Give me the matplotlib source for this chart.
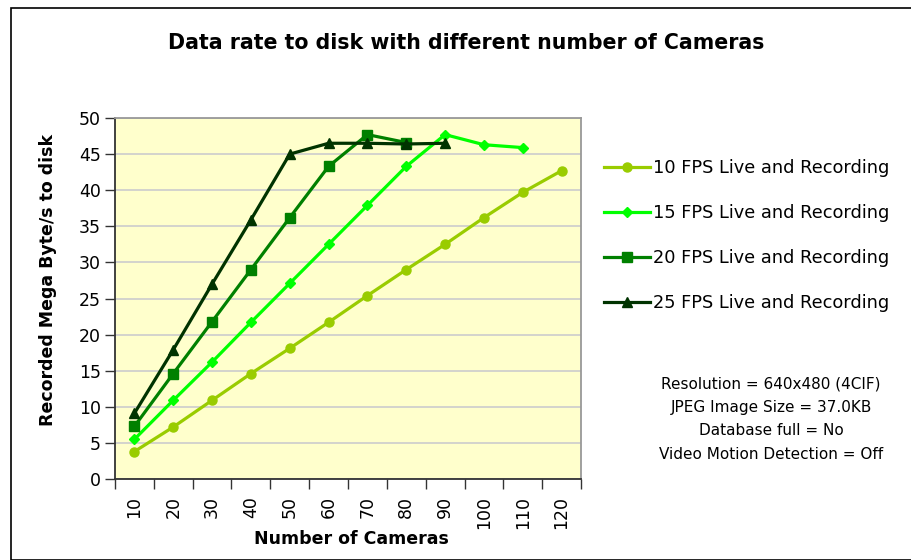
import numpy as np
import matplotlib
matplotlib.use('Agg')
from matplotlib import pyplot as plt
from matplotlib.patches import Rectangle

plt.rcParams['font.family'] = ['DejaVu Sans']

cameras = ['10', '20', '30', '40', '50', '60', '70', '80', '90', '100', '110', '120']
fps10 = [3.8, 7.2, 10.9, 14.6, 18.1, 21.7, 25.4, 29.0, 32.5, 36.2, 39.7, 42.7]
fps15 = [5.5, 10.9, 16.2, 21.7, 27.1, 32.5, 37.9, 43.3, 47.7, 46.3, 45.9]
fps20 = [7.3, 14.6, 21.8, 29.0, 36.2, 43.3, 47.7, 46.6]
fps25 = [9.1, 17.9, 27.0, 35.9, 45.0, 46.5, 46.5, 46.4, 46.5]

series = [
    ('10 FPS Live and Recording', fps10, '#99CC00', 'o', 6.5),
    ('15 FPS Live and Recording', fps15, '#00FF00', 'D', 5.5),
    ('20 FPS Live and Recording', fps20, '#008000', 's', 6.5),
    ('25 FPS Live and Recording', fps25, '#003300', '^', 7.5),
]

W, H = 911, 560
fig = plt.figure(figsize=(W/100, H/100), dpi=100)
fig.patches.append(Rectangle((11/W, 0), 1, 1-8/H, transform=fig.transFigure,
                             fill=False, edgecolor='black', linewidth=1.2))

ax = fig.add_axes([115/W, 1-479/H, (581-115)/W, (479-118)/H])
ax.set_facecolor('#FFFFCC')
for lab, vals, col, mk, ms in series:
    x = np.arange(len(vals))
    ax.plot(x, vals, color=col, marker=mk, markersize=ms, linewidth=2.3, label=lab)

ax.set_xlim(-0.5, len(cameras) - 0.5)
ax.set_ylim(0, 50)
ax.set_yticks(np.arange(0, 51, 5))
ax.grid(axis='y', color='#CCCCCC', linewidth=1.2)
ax.set_axisbelow(True)
ax.set_xticks(np.arange(len(cameras)))
ax.set_xticklabels(cameras, rotation=90, fontsize=12.5)
ax.set_xticks(np.arange(-0.5, len(cameras), 1), minor=True)
ax.tick_params(axis='x', which='major', length=0, pad=12)
ax.tick_params(axis='x', which='minor', length=7, width=1, color='#333333', direction='out')
ax.tick_params(axis='y', length=7, width=1, color='#333333', labelsize=12.5, pad=3)
for s in ['left', 'bottom']:
    ax.spines[s].set_color('#333333')
    ax.spines[s].set_linewidth(1.3)
for s in ['top', 'right']:
    ax.spines[s].set_color('#999999')
    ax.spines[s].set_linewidth(1.3)

fig.text(466/W, 1-43/H, 'Data rate to disk with different number of Cameras',
         ha='center', va='center', fontsize=14.8, fontweight='bold')
fig.text(48/W, 1-280/H, 'Recorded Mega Byte/s to disk', rotation=90,
         ha='center', va='center', fontsize=12.5, fontweight='bold')
fig.text(351/W, 1-539/H, 'Number of Cameras', ha='center', va='center',
         fontsize=12.5, fontweight='bold')

fig.legend(loc='upper left', bbox_to_anchor=(604/W, 1-159/H), frameon=False,
           fontsize=12.8, handlelength=2.6, handletextpad=0.15, labelspacing=1.52,
           borderpad=0, borderaxespad=0)

fig.text(771/W, 1-419/H,
         'Resolution = 640x480 (4CIF)\nJPEG Image Size = 37.0KB\nDatabase full = No\nVideo Motion Detection = Off',
         ha='center', va='center', fontsize=11, linespacing=1.72)

fig.savefig('out.png', dpi=100)
